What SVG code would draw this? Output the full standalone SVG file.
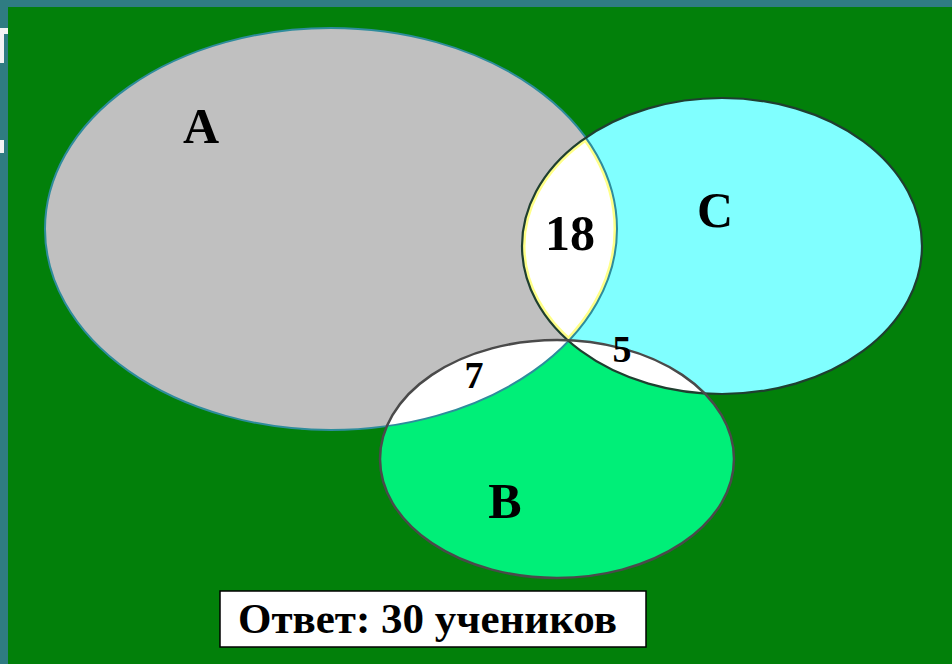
<svg xmlns="http://www.w3.org/2000/svg" width="952" height="664" viewBox="0 0 952 664">
<style>
.lbl{font-family:"Liberation Serif","Times New Roman",serif;font-weight:bold;fill:#000;text-anchor:middle}
.big{font-size:50px}
.small{font-size:38px}
</style>
<defs>
<clipPath id="clipA"><ellipse cx="331" cy="229" rx="286" ry="201"/></clipPath>
<clipPath id="clipB"><ellipse cx="557" cy="459" rx="177" ry="119"/></clipPath>
<clipPath id="clipC"><ellipse cx="722" cy="246" rx="200" ry="148"/></clipPath>
</defs>
<g id="background">
<rect x="0" y="0" width="952" height="664" fill="#02800a"/>
<rect x="0" y="0" width="952" height="7" fill="#2f7c82"/>
<rect x="0" y="0" width="8" height="664" fill="#2f7c82"/>
<rect x="0" y="28" width="8" height="6" fill="#f4f4f4"/>
<rect x="0" y="28" width="4" height="35" fill="#f4f4f4"/>
<rect x="0" y="140" width="4" height="13" fill="#f4f4f4"/>
</g>
<g id="setA">
<ellipse cx="331" cy="229" rx="286" ry="201" fill="#c0c0c0"/>
</g>
<g id="setC">
<ellipse cx="722" cy="246" rx="200" ry="148" fill="#80ffff"/>
</g>
<g id="setB">
<ellipse cx="557" cy="459" rx="177" ry="119" fill="#00ef78"/>
</g>
<g id="AC" clip-path="url(#clipA)">
<g clip-path="url(#clipC)">
<ellipse cx="331" cy="229" rx="286" ry="201" fill="#ffffff" stroke="#ffff88" stroke-width="7"/>
<ellipse cx="722" cy="246" rx="200" ry="148" fill="none" stroke="#ffff88" stroke-width="7"/>
</g>
</g>
<g id="AB" clip-path="url(#clipB)">
<ellipse cx="331" cy="229" rx="286" ry="201" fill="#ffffff"/>
</g>
<g id="BC" clip-path="url(#clipB)">
<ellipse cx="722" cy="246" rx="200" ry="148" fill="#ffffff"/>
</g>
<g id="outlines" fill="none">
<ellipse cx="331" cy="229" rx="286" ry="201" stroke="#2e8c9c" stroke-width="2"/>
<ellipse cx="722" cy="246" rx="200" ry="148" stroke="#1f3f30" stroke-width="2.2"/>
<ellipse cx="557" cy="459" rx="177" ry="119" stroke="#4a4a4a" stroke-width="2.5"/>
</g>
<g id="labels">
<text class="lbl big" x="201" y="143">A</text>
<text class="lbl big" x="715" y="227">C</text>
<text class="lbl big" x="505" y="518">B</text>
<text class="lbl big" x="570" y="250">18</text>
<text class="lbl small" x="474" y="388">7</text>
<text class="lbl small" x="622" y="362">5</text>
</g>
<g id="answer">
<rect x="220" y="591" width="426" height="56" fill="#ffffff" stroke="#000" stroke-width="1.5"/>
<text class="lbl" x="238" y="633" font-size="43" style="text-anchor:start" textLength="379" lengthAdjust="spacingAndGlyphs">Ответ: 30 учеников</text>
</g>
</svg>
